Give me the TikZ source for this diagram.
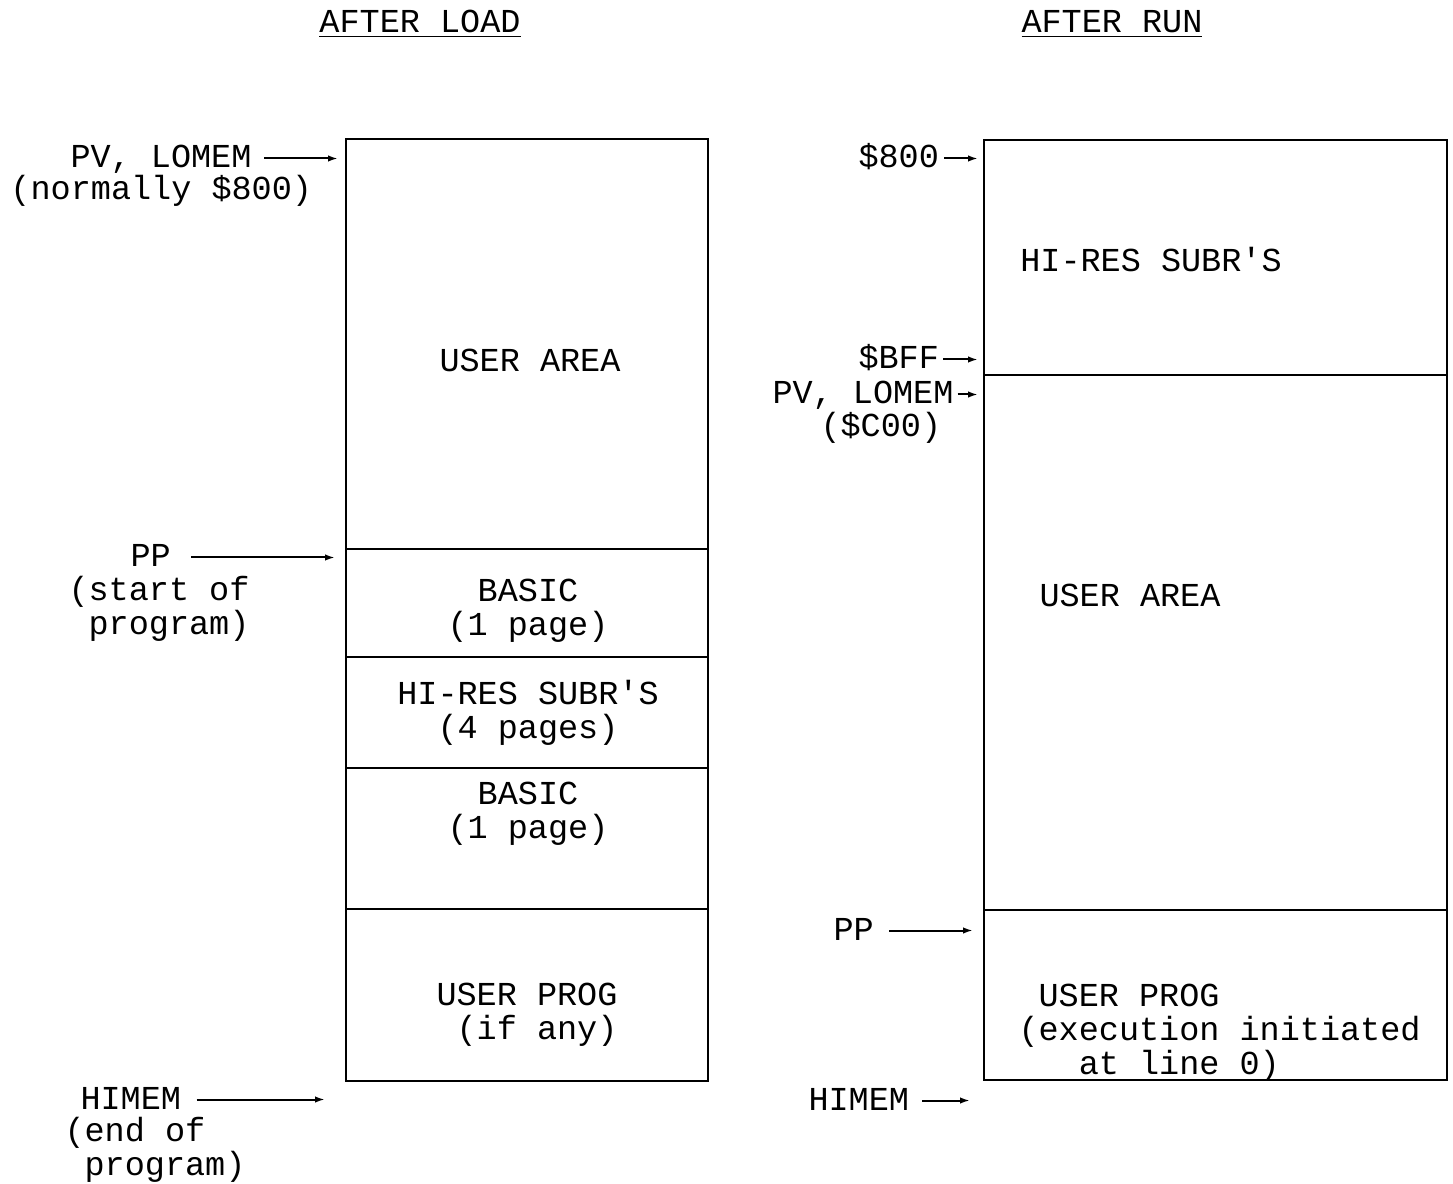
\documentclass[tikz,border=0pt]{standalone}
\usepackage{fontspec}
\setmonofont{Liberation Mono}
\usetikzlibrary{arrows.meta,positioning}

\begin{document}
\begin{tikzpicture}[
    x=0.4pt, y=-0.4pt,
    >={Latex[length=4pt,width=2.6pt]},
    every node/.style={font=\ttfamily\fontsize{13.4}{13.6}\selectfont},
    seg/.style={draw, line width=1.1pt, inner sep=0pt, outer sep=0pt},
    lcol/.style={seg, minimum width=144.8pt},
    rcol/.style={seg, minimum width=185.2pt},
    txt/.style={align=center, inner sep=0pt},
    ptrlbl/.style={inner sep=0pt, text height=7.6pt, text depth=0pt, anchor=base west},
    note/.style={align=left, inner sep=0pt, anchor=base west},
    ptr/.style={->, line width=0.8pt}
]
\useasboundingbox (0,0) rectangle (1453,1184);

% titles
\node[anchor=base, inner sep=0pt] (tload) at (420,33) {\underline{AFTER LOAD}};
\node[anchor=base, inner sep=0pt] (trun) at (1112,33) {\underline{AFTER RUN}};

% after load
\node[lcol, minimum height=164pt, anchor=north west] (luser) at (346,139) {};
\node[lcol, minimum height=43.2pt, below=0pt of luser] (lbasa) {};
\node[lcol, minimum height=44.4pt, below=0pt of lbasa] (lhires) {};
\node[lcol, minimum height=56.4pt, below=0pt of lhires] (lbasb) {};
\node[lcol, minimum height=68.8pt, below=0pt of lbasb] (lprog) {};

\node[txt] (luser-t) at (530,360) {USER AREA};
\node[txt] (lbasa-t) at (528,611) {BASIC\\(1 page)};
\node[txt] (lhires-t) at (528,713) {HI-RES SUBR'S\\(4 pages)};
\node[txt] (lbasb-t) at (528,814) {BASIC\\(1 page)};
\node[txt] (lprog-t) at (527,1015) {USER PROG\\~(if any)};

% pointers, after load (note base = last line)
\node[ptrlbl] (lpv) at (70,168) {PV, LOMEM};
\node[note] (lpv-n) at (10,200) {(normally \$800)};
\node[ptrlbl] (lpp) at (130,567) {PP};
\node[note] (lpp-n) at (68,634) {(start of\\~program)};
\node[ptrlbl] (lhim) at (80,1109) {HIMEM};
\node[note] (lhim-n) at (64,1175) {(end of\\~program)};

% after run
\node[rcol, minimum height=94pt, anchor=north west] (rhires) at (984,140) {};
\node[rcol, minimum height=214pt, below=0pt of rhires] (ruser) {};
\node[rcol, minimum height=68pt, below=0pt of ruser] (rprog) {};

\node[txt] (rhires-t) at (1151,260) {HI-RES SUBR'S};
\node[txt] (ruser-t) at (1130,595) {USER AREA};
\node[note, anchor=west] (rprog-t) at (1018,1033) {~USER PROG\\(execution initiated\\~~~at line 0)};

\node[ptrlbl] (r800) at (858,168) {\$800};
\node[ptrlbl] (rbff) at (858,369) {\$BFF};
\node[ptrlbl] (rpv) at (772,404) {PV, LOMEM};
\node[note] (rpv-n) at (820,437) {(\$C00)};
\node[ptrlbl] (rpp) at (833,940) {PP};
\node[ptrlbl] (rhim) at (808,1110) {HIMEM};

\draw[ptr, shorten <=5pt, shorten >=3.2pt] (lpv) -- (lpv -| luser.west);
\draw[ptr, shorten <=8pt, shorten >=4.4pt] (lpp) -- (lpp -| lbasa.west);
\draw[ptr, shorten <=6pt, shorten >=8.4pt] (lhim) -- (lhim -| lprog.west);
\draw[ptr, shorten <=2pt, shorten >=2.4pt] (r800) -- (r800 -| rhires.west);
\draw[ptr, shorten <=1.5pt, shorten >=2.4pt] (rbff) -- (rbff -| rhires.west);
\draw[ptr, shorten <=1.5pt, shorten >=2.4pt] (rpv) -- (rpv -| ruser.west);
\draw[ptr, shorten <=6pt, shorten >=4.4pt] (rpp) -- (rpp -| rprog.west);
\draw[ptr, shorten <=5pt, shorten >=5.6pt] (rhim) -- (rhim -| rprog.west);

\end{tikzpicture}
\end{document}
